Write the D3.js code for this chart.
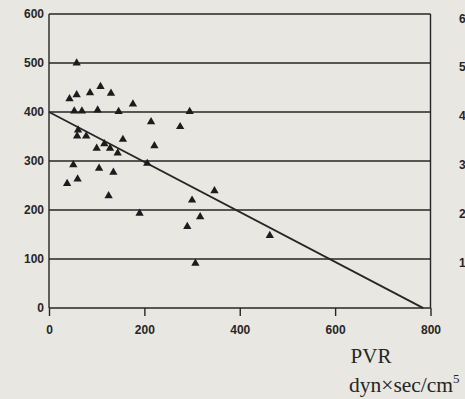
<!DOCTYPE html>
<html>
<head>
<meta charset="utf-8">
<script src="https://cdn.jsdelivr.net/npm/d3@7"></script>
<style>
  html, body { margin: 0; padding: 0; background: #e9e7e2; }
  svg { display: block; }
</style>
</head>
<body>
<script>
// PVR (dyn×sec/cm5) against the measured variable, one triangle per patient
const pvr = [58, 43, 58, 86, 108, 130, 53, 69, 102, 146, 176, 295, 214, 275,
             61, 59, 78, 155, 116, 100, 128, 144, 221, 51, 105, 135, 38, 60,
             206, 125, 347, 190, 300, 290, 317, 307, 463];
const values = [500, 427, 435, 439, 452, 438, 402, 402, 404, 401, 416, 401, 380, 370,
                363, 351, 351, 344, 335, 326, 326, 316, 331, 292, 285, 277, 254, 263,
                295, 229, 239, 193, 220, 166, 186, 91, 148];

// fitted regression line: value = intercept + slope * PVR
const intercept = 400;
const slope = -0.51;
const fitEnd = 785;

const xTicks = [0, 200, 400, 600, 800];
const yTicks = [0, 100, 200, 300, 400, 500, 600];
// labels of the neighbouring panel, cut by the page edge
const sideLabels = ["6", "5", "4", "3", "2", "1"];

const W = 465, H = 399;
const ink = "#262626";

const svg = d3.select("body").append("svg")
  .attr("width", W).attr("height", H);

const x = d3.scaleLinear().domain([0, 800]).range([49, 430.5]);
const y = d3.scaleLinear().domain([0, 600]).range([308, 14]);

// horizontal rules at every y tick
svg.append("g").selectAll("line").data(yTicks).join("line")
  .attr("x1", x(0)).attr("x2", x(800))
  .attr("y1", d => y(d)).attr("y2", d => y(d))
  .attr("stroke", ink).attr("stroke-width", 1.4);

// left and right frame
[0, 800].forEach(v => {
  svg.append("line")
    .attr("x1", x(v)).attr("x2", x(v))
    .attr("y1", y(600)).attr("y2", y(0))
    .attr("stroke", ink).attr("stroke-width", 1.4);
});

// x axis with ticks below
const xAxis = d3.axisBottom(x).tickValues(xTicks).tickSize(8).tickPadding(9).tickSizeOuter(0);
const gx = svg.append("g").attr("transform", `translate(0,${y(0)})`).call(xAxis);
gx.select(".domain").remove();
gx.selectAll(".tick line").attr("stroke", ink).attr("stroke-width", 1.4);
gx.selectAll(".tick text")
  .attr("fill", ink)
  .style("font-family", "'Liberation Sans', Arial, sans-serif")
  .style("font-size", "12px").style("font-weight", "bold")
  .attr("dy", "0.71em");

// y axis labels
const yAxis = d3.axisLeft(y).tickValues(yTicks).tickSize(0).tickPadding(5);
const gy = svg.append("g").attr("transform", `translate(${x(0)},0)`).call(yAxis);
gy.select(".domain").remove();
gy.selectAll(".tick text")
  .attr("fill", ink)
  .style("font-family", "'Liberation Sans', Arial, sans-serif")
  .style("font-size", "12px").style("font-weight", "bold");

// regression line
svg.append("line")
  .attr("x1", x(0)).attr("y1", y(intercept))
  .attr("x2", x(fitEnd)).attr("y2", y(intercept + slope * fitEnd))
  .attr("stroke", ink).attr("stroke-width", 1.8);

// data points
const tri = d3.symbol().type(d3.symbolTriangle).size(30);
svg.append("g").selectAll("path").data(pvr).join("path")
  .attr("d", tri)
  .attr("transform", (d, i) => `translate(${x(d)},${y(values[i])})`)
  .attr("fill", "#1c1c1c");

// axis title
svg.append("text")
  .attr("x", 371).attr("y", 363)
  .attr("text-anchor", "middle")
  .style("font-family", "'Liberation Serif', 'Times New Roman', serif")
  .style("font-size", "21px")
  .attr("fill", ink)
  .text("PVR");

const unit = svg.append("text")
  .attr("x", 349).attr("y", 392)
  .style("font-family", "'Liberation Serif', 'Times New Roman', serif")
  .style("font-size", "21.5px")
  .attr("fill", ink);
unit.append("tspan").text("dyn×sec/cm");
unit.append("tspan").attr("dy", -9).style("font-size", "13px").text("5");

// neighbouring panel labels at the right edge
svg.append("g").selectAll("text").data(sideLabels).join("text")
  .attr("x", 459)
  .attr("y", (d, i) => 18.3 + i * 48.9)
  .attr("dy", "0.35em")
  .style("font-family", "'Liberation Sans', Arial, sans-serif")
  .style("font-size", "12px").style("font-weight", "bold")
  .attr("fill", ink)
  .text(d => d);
</script>
</body>
</html>
